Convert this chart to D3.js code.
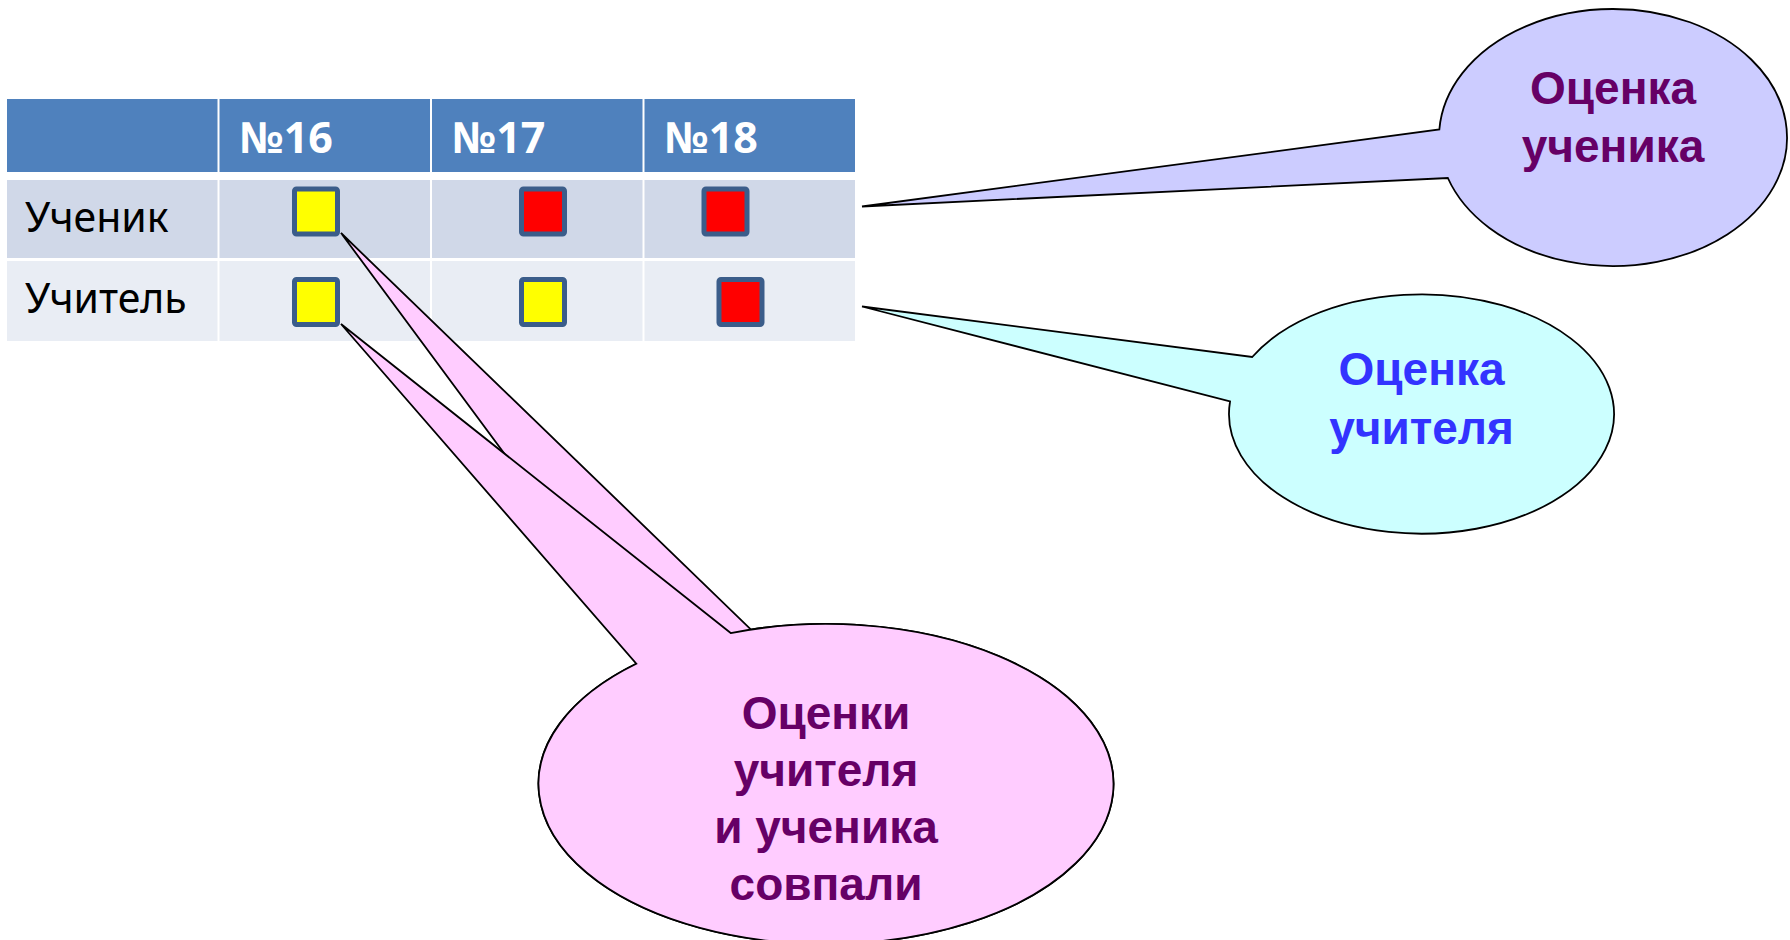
<!DOCTYPE html>
<html>
<head>
<meta charset="utf-8">
<script src="https://cdn.jsdelivr.net/npm/d3@7"></script>
<style>
  html, body { margin: 0; padding: 0; background: #ffffff; }
  svg { display: block; }
</style>
</head>
<body>
<svg id="chart" width="1790" height="940"></svg>
<script>
// ---------- data ----------
const columns = ["№16", "№17", "№18"];
const rowLabels = ["Ученик", "Учитель"];
const studentGrades = ["yellow", "red", "red"];
const teacherGrades = ["yellow", "yellow", "red"];
const studentNote = ["Оценка", "ученика"];
const teacherNote = ["Оценка", "учителя"];
const matchNote = ["Оценки", "учителя", "и ученика", "совпали"];

// ---------- layout ----------
const W = 1790, H = 940;
const svg = d3.select("#chart");

const x = d3.scaleBand()
  .domain(["", ...columns])
  .range([7, 855])
  .paddingInner(0.0094);

const header = { top: 99, height: 73 };
const rowTops = [180, 261];
const rowHeights = [78, 80];
const rowFills = ["#D0D8E8", "#E9EDF4"];
const gradeColor = d3.scaleOrdinal().domain(["yellow", "red"]).range(["#FFFF00", "#FF0000"]);
// square offsets within their cells (as in the original slide)
const squareDx = [[72.5, 87, 57], [72.5, 87, 72]];
const squareDy = [6.5, 16];
const sqW = 48, sqH = 50, sqStroke = 5;

const grades = [studentGrades, teacherGrades];

// ---------- table ----------
const table = svg.append("g");

// header
table.selectAll("rect.hdr")
  .data(x.domain())
  .join("rect")
  .attr("class", "hdr")
  .attr("x", d => x(d))
  .attr("y", header.top)
  .attr("width", x.bandwidth())
  .attr("height", header.height)
  .attr("fill", "#4F81BD");

table.selectAll("text.hdr")
  .data(columns)
  .join("text")
  .attr("class", "hdr")
  .attr("x", d => x(d) + 20)
  .attr("y", header.top + 54)
  .attr("fill", "#ffffff")
  .attr("font-family", "'Noto Sans', 'Open Sans', sans-serif")
  .attr("font-weight", "bold")
  .attr("font-size", 43)
  .text(d => d);

// body rows
rowLabels.forEach((label, i) => {
  const g = table.append("g");
  g.selectAll("rect.cell")
    .data(x.domain())
    .join("rect")
    .attr("class", "cell")
    .attr("x", d => x(d))
    .attr("y", rowTops[i])
    .attr("width", x.bandwidth())
    .attr("height", rowHeights[i])
    .attr("fill", rowFills[i]);

  g.append("text")
    .attr("x", x("") + 18)
    .attr("y", rowTops[i] + 52)
    .attr("fill", "#000000")
    .attr("font-family", "'Noto Sans', 'Open Sans', sans-serif")
    .attr("font-size", 41)
    .text(label);

  g.selectAll("rect.sq")
    .data(grades[i].map((gr, j) => ({ gr, col: columns[j], j })))
    .join("rect")
    .attr("class", "sq")
    .attr("x", d => x(d.col) + squareDx[i][d.j] + sqStroke / 2)
    .attr("y", rowTops[i] + squareDy[i] + sqStroke / 2)
    .attr("width", sqW - sqStroke)
    .attr("height", sqH - sqStroke)
    .attr("rx", 2)
    .attr("fill", d => gradeColor(d.gr))
    .attr("stroke", "#3B5D8A")
    .attr("stroke-width", sqStroke);
});

// ---------- callouts ----------
function ellipsePoint(c, yAt, side) {
  const dy = (yAt - c.cy) / c.ry;
  return [c.cx + side * c.rx * Math.sqrt(Math.max(0, 1 - dy * dy)), yAt];
}
function ellipsePointX(c, xAt, side) {
  const dx = (xAt - c.cx) / c.rx;
  return [xAt, c.cy + side * c.ry * Math.sqrt(Math.max(0, 1 - dx * dx))];
}
function calloutPath(c, tip, b1, b2) {
  return `M${tip[0]},${tip[1]} L${b1[0]},${b1[1]} A${c.rx},${c.ry} 0 1 1 ${b2[0]},${b2[1]} Z`;
}
function drawCallout(c, tip, b1, b2, fill) {
  svg.append("path")
    .attr("d", calloutPath(c, tip, b1, b2))
    .attr("fill", fill)
    .attr("stroke", "#000000")
    .attr("stroke-width", 1.8)
    .attr("stroke-linejoin", "miter");
}
function drawLines(lines, cx, y0, step, color) {
  svg.append("g").selectAll("text")
    .data(lines)
    .join("text")
    .attr("x", cx)
    .attr("y", (d, i) => y0 + i * step)
    .attr("text-anchor", "middle")
    .attr("fill", color)
    .attr("font-family", "'Liberation Sans', Arial, sans-serif")
    .attr("font-weight", "bold")
    .attr("font-size", 46)
    .text(d => d);
}

// student callout (lavender)
const cStudent = { cx: 1613, cy: 137.5, rx: 174, ry: 128.5 };
drawCallout(cStudent, [862, 206.5],
  ellipsePoint(cStudent, 129.5, -1), ellipsePoint(cStudent, 178, -1), "#CCCCFF");
drawLines(studentNote, cStudent.cx, 104, 58, "#660066");

// teacher callout (cyan)
const cTeacher = { cx: 1421.5, cy: 414, rx: 192.5, ry: 119.7 };
drawCallout(cTeacher, [862, 306.5],
  ellipsePoint(cTeacher, 357, -1), ellipsePoint(cTeacher, 401.5, -1), "#CCFFFF");
drawLines(teacherNote, cTeacher.cx, 385, 59, "#3333FF");

// match callout (pink) — two tails to the №16 squares
const cMatch = { cx: 826, cy: 784, rx: 287.5, ry: 160 };
const tip1 = [341, 233], tip2 = [341, 324];
drawCallout(cMatch, tip1,
  ellipsePointX(cMatch, 751, -1), ellipsePointX(cMatch, 654, -1), "#FFCCFF");
drawCallout(cMatch, tip2,
  ellipsePointX(cMatch, 730.7, -1), ellipsePointX(cMatch, 636.3, -1), "#FFCCFF");
drawLines(matchNote, cMatch.cx, 729, 57, "#660066");
</script>
</body>
</html>
